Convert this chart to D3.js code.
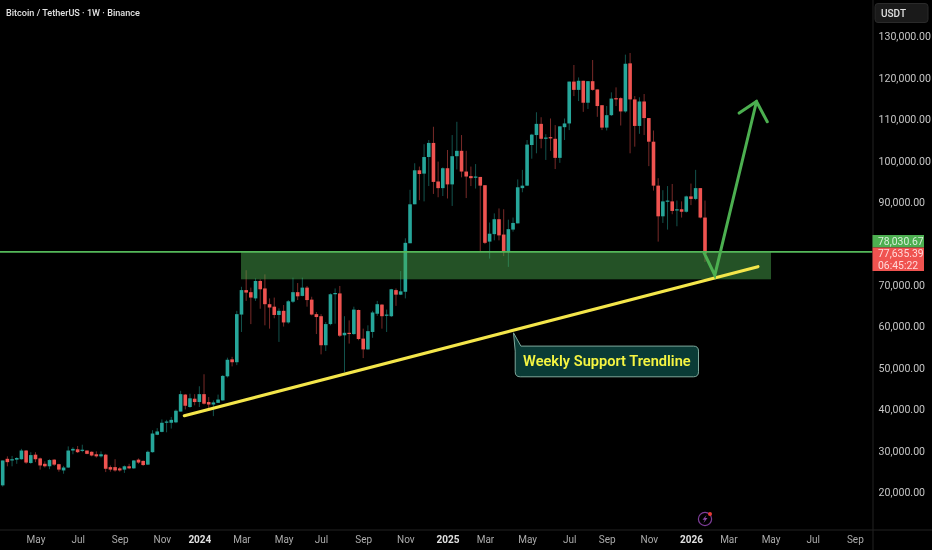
<!DOCTYPE html>
<html>
<head>
<meta charset="utf-8">
<script src="https://cdn.jsdelivr.net/npm/d3@7/dist/d3.min.js"></script>
<style>
html,body{margin:0;padding:0;background:#000;overflow:hidden}
svg{display:block;font-family:Roboto,Inter,sans-serif;filter:blur(0.3px)}
</style>
</head>
<body>
<svg id="chart" width="932" height="550"></svg>
<script>
// Weekly candles, USD thousands
const opens=[21.7,28.1,27.7,27.9,28.0,30.1,27.1,29.1,28.2,26.9,26.3,27.9,26.8,25.3,26.0,30.1,30.4,30.0,30.1,29.8,29.2,28.7,29.1,26.1,26.1,25.8,25.5,26.3,25.8,27.9,27.6,26.7,29.7,33.9,34.6,36.8,36.8,36.9,39.5,43.6,40.6,42.6,41.8,43.7,41.8,41.2,41.6,42.2,48.0,52.1,
51.4,62.9,68.8,68.3,66.8,71.0,69.2,65.4,64.8,62.8,63.8,61.0,66.0,68.3,67.4,69.4,66.5,63.0,62.5,55.5,60.6,67.8,68.0,57.9,58.5,58.2,64.0,57.1,54.5,58.7,63.1,65.3,62.6,62.5,68.8,67.7,68.4,80.1,89.5,97.7,
96.9,100.9,104.3,95.0,93.4,98.2,94.3,101.1,102.4,97.4,96.3,95.9,96.1,94.1,80.5,82.3,85.9,82.2,78.0,83.4,84.9,93.4,94.0,103.8,106.2,108.9,105.4,105.7,105.3,100.7,108.1,109.0,119.1,117.1,119.3,114.0,119.2,117.2,113.4,108.0,
111.0,115.1,115.1,111.9,123.5,114.8,108.4,114.3,110.3,104.6,94.0,86.6,90.2,90.2,88.0,88.3,87.7,91.4,90.8,93.4,86.3];
const highs=[27.7,28.7,28.8,28.5,30.5,30.2,29.7,29.7,28.4,27.5,28.0,28.0,26.9,26.4,31.1,30.9,31.2,31.5,30.1,29.9,29.9,29.9,29.3,26.5,28.0,26.1,26.5,26.9,27.8,28.2,27.7,30.1,35.0,35.5,37.6,37.5,38.2,40.0,44.5,43.7,43.8,43.7,45.6,48.5,43.0,42.2,43.6,48.3,52.5,52.7,
63.8,69.6,73.6,69.4,71.6,71.4,72.6,66.8,67.0,64.4,65.2,66.4,71.8,70.5,71.8,69.8,67.2,63.5,63.0,61.1,68.0,69.2,69.8,62.5,61.5,64.8,64.1,59.5,60.3,63.8,66.2,65.4,64.1,69.1,69.2,73.4,81.3,93.0,99.4,98.6,
104.0,105.0,108.2,99.8,98.4,102.6,106.2,109.4,106.2,102.4,98.6,99.2,96.1,94.1,85.1,87.3,88.5,88.3,85.8,86.3,95.5,97.8,105.0,106.5,111.7,110.5,106.4,110.2,108.6,108.3,110.2,119.1,123.1,120.1,119.3,119.2,124.3,117.2,113.4,113.2,
116.5,117.7,115.3,125.6,126.0,115.6,115.3,116.1,110.3,107.3,95.8,92.9,93.9,94.4,90.4,90.2,91.6,94.5,97.8,93.4,90.4];
const lows=[21.4,26.3,26.3,26.9,27.9,26.9,26.9,27.3,25.5,26.0,25.6,26.4,25.0,24.5,25.9,29.2,29.5,29.7,29.2,28.7,28.4,28.4,24.9,25.0,25.0,25.0,24.7,25.6,25.7,26.9,26.4,26.6,29.6,33.8,34.5,34.5,35.4,36.7,39.5,40.0,40.4,41.0,40.6,41.2,40.3,38.4,41.6,42.1,47.7,50.4,
50.7,58.7,66.2,60.6,66.2,64.3,60.3,59.5,62.0,56.3,60.0,60.7,65.7,66.4,67.3,64.8,62.7,58.2,53.3,54.1,60.3,60.7,57.5,49.0,55.9,58.0,56.7,52.4,54.4,57.3,62.6,59.5,58.7,62.3,65.0,67.6,66.8,80.1,89.5,90.5,
90.2,93.9,92.0,91.2,91.5,90.9,89.1,97.9,96.0,91.0,93.9,93.3,78.0,79.9,76.4,80.8,80.8,77.0,74.4,82.9,84.9,92.4,93.9,100.5,101.8,103.0,100.2,102.4,98.0,99.5,105.0,107.4,115.6,114.4,111.8,112.5,116.9,110.6,107.4,107.3,
110.8,113.2,108.5,111.6,101.8,103.4,106.5,106.2,98.7,92.8,80.5,85.0,83.4,87.1,84.2,86.3,87.5,89.3,90.5,86.1,75.6];
const closes=[27.7,27.3,28.0,28.3,30.1,27.2,29.0,28.0,26.5,26.3,27.8,26.7,25.5,26.0,30.1,30.5,29.7,30.3,29.3,28.9,28.7,29.2,25.7,25.5,25.3,25.3,26.3,25.8,27.7,27.2,26.6,29.8,34.2,34.7,36.8,37.1,37.5,39.7,43.7,40.9,42.7,41.8,43.7,41.4,41.2,41.7,42.4,48.1,52.0,51.4,
63.0,68.8,68.2,67.0,71.0,69.0,65.4,64.6,62.8,63.8,61.0,66.1,68.3,67.3,69.4,66.4,62.9,62.3,55.5,60.6,67.8,68.1,57.8,58.5,58.2,64.1,57.0,54.5,58.9,63.4,65.4,62.5,62.9,69.0,67.7,68.5,80.2,89.5,97.7,96.8,
100.9,104.3,94.9,93.4,98.2,94.3,101.1,102.4,97.4,96.2,95.8,96.2,94.0,80.2,82.4,85.9,82.0,78.0,83.5,85.0,93.6,94.0,103.9,106.3,108.9,105.3,105.6,105.4,100.7,108.3,109.0,119.1,117.1,119.3,114.0,119.2,117.1,113.2,108.0,111.0,
115.0,114.8,111.9,123.4,114.8,108.4,114.3,110.3,104.6,94.0,86.6,90.2,90.4,87.9,88.3,87.7,91.4,90.8,93.4,86.3,77.6];

// Axes
const xTickBars=[7,16,25,34,42,51,60,68,77,86,95,103,112,121,129,138,147,155,164,173,182];
const xTickLabels=["May","Jul","Sep","Nov","2024","Mar","May","Jul","Sep","Nov","2025","Mar","May","Jul","Sep","Nov","2026","Mar","May","Jul","Sep"];
const yearLabels=["2024","2025","2026"];
const yTicks=[20,30,40,50,60,70,90,100,110,120,130];

// Drawings: [bar index, price in USD thousands]
const supportLevel=78.03;
const zoneBars=[50.9,164.1];
const zonePrices=[78.03,71.4];
const trendline=[[38.8,38.5],[161.3,74.45]];
const arrowPath=[[149.8,77.8],[152.1,72.4],[161,114.3]];
const arrowHead=[[157.3,111.5],[161,114.3],[163.3,109.4]];
const calloutAnchor=[109.1,58.5];
const calloutText="Weekly Support Trendline";
const chartTitle="Bitcoin / TetherUS · 1W · Binance";
const currencyLabel="USDT";
const lastPrices=["78,030.67","77,635.39","06:45:22"];

const paneW=872.5, paneH=529.5;
const x=d3.scaleLinear().domain([0,150]).range([2.7,705]);
const y=d3.scaleLinear().domain([20,130]).range([492.4,36.4]);
const UP="#26a69a", DOWN="#ef5350", GREEN="#4caf50";
const svg=d3.select("#chart");
svg.append("rect").attr("width",932).attr("height",550).attr("fill","#000");

const bars=d3.range(opens.length).map(i=>({i,o:opens[i],h:highs[i],l:lows[i],c:closes[i]}));
const col=d=>d.c>=d.o?UP:DOWN;
const gC=svg.append("g");
gC.selectAll("line").data(bars).join("line")
  .attr("x1",d=>x(d.i)).attr("x2",d=>x(d.i)).attr("y1",d=>y(d.h)).attr("y2",d=>y(d.l))
  .attr("stroke",col).attr("stroke-width",1).attr("stroke-opacity",.5);
gC.selectAll("rect").data(bars).join("rect")
  .attr("x",d=>x(d.i)-1.8).attr("width",3.6)
  .attr("y",d=>Math.min(y(d.o),y(d.c)))
  .attr("height",d=>Math.max(1.2,Math.abs(y(d.o)-y(d.c))))
  .attr("fill",col);

// Zone and level
svg.append("rect").attr("x",x(zoneBars[0])).attr("width",x(zoneBars[1])-x(zoneBars[0]))
  .attr("y",y(zonePrices[0])).attr("height",y(zonePrices[1])-y(zonePrices[0]))
  .attr("fill",GREEN).attr("fill-opacity",.47);
svg.append("line").attr("x1",0).attr("x2",paneW).attr("y1",y(supportLevel)).attr("y2",y(supportLevel))
  .attr("stroke","#55b85a").attr("stroke-width",1.7);

const line=d3.line().x(d=>x(d[0])).y(d=>y(d[1]));
svg.append("path").attr("d",line(trendline)).attr("fill","none").attr("stroke","#f4e64a").attr("stroke-width",3.2).attr("stroke-linecap","round");
[arrowPath,arrowHead].forEach(p=>svg.append("path").attr("d",line(p)).attr("fill","none")
  .attr("stroke",GREEN).attr("stroke-width",3).attr("stroke-linejoin","miter").attr("stroke-linecap","round"));

// Callout
const ax=x(calloutAnchor[0]), ay=y(calloutAnchor[1]);
const cL=ax+1.7, cT=ay+13.3, cW=183.3, cH=30.7, r=5;
svg.append("path").attr("d",`M${ax},${ay} L${ax+7.4},${cT} H${cL+cW-r} Q${cL+cW},${cT} ${cL+cW},${cT+r} V${cT+cH-r} Q${cL+cW},${cT+cH} ${cL+cW-r},${cT+cH} H${cL+r} Q${cL},${cT+cH} ${cL},${cT+cH-r} V${cT+r} Z`)
  .attr("fill","#0a3b36").attr("stroke","#7fa89c").attr("stroke-width",1);
svg.append("text").attr("x",cL+cW/2).attr("y",cT+cH/2+5).attr("text-anchor","middle")
  .attr("font-size",14.6).attr("font-weight",600).attr("fill","#f5f542").text(calloutText);

// Price axis
svg.append("g").attr("transform",`translate(${paneW},0)`)
  .call(d3.axisRight(y).tickValues(yTicks).tickSize(0).tickPadding(6).tickFormat(v=>d3.format(",.2f")(v*1000)))
  .call(g=>g.select(".domain").attr("d","M0.5,0V550").attr("stroke","#232323"))
  .call(g=>g.selectAll("text").attr("fill","#c4c4c4").attr("font-size",10.6).attr("font-family","Roboto,sans-serif"));

// Time axis
const xTickScale=d3.scaleOrdinal().domain(xTickBars).range(xTickLabels);
svg.append("g").attr("transform",`translate(0,${paneH})`)
  .call(d3.axisBottom(x).tickValues(xTickBars).tickSize(0).tickPadding(6).tickFormat(b=>xTickScale(b)))
  .call(g=>g.select(".domain").attr("d",`M0,0.5H932`).attr("stroke","#232323"))
  .call(g=>g.selectAll("text").attr("fill",d=>yearLabels.includes(xTickScale(d))?"#e0e0e0":"#ababab")
     .attr("font-weight",d=>yearLabels.includes(xTickScale(d))?700:400)
     .attr("font-size",10).attr("font-family","Roboto,sans-serif"));

// Title
svg.append("text").attr("x",6).attr("y",15.5).attr("font-size",9.1).attr("font-weight",500).attr("fill","#e2e2e2").text(chartTitle);

// Currency button
svg.append("rect").attr("x",875).attr("y",3.5).attr("width",53).attr("height",19).attr("rx",3)
  .attr("fill","#1a1a1a").attr("stroke","#2a2a2a");
svg.append("text").attr("x",881).attr("y",16.5).attr("font-size",10).attr("font-weight",500).attr("fill","#e0e0e0").text(currencyLabel);

// Last price labels
svg.append("rect").attr("x",paneW).attr("y",235).attr("width",51.5).attr("height",12.5).attr("fill",GREEN);
svg.append("rect").attr("x",paneW).attr("y",247.5).attr("width",51.5).attr("height",23.5).attr("fill","#f05350");
svg.selectAll(".lp").data(lastPrices).join("text").attr("class","lp")
  .attr("x",878).attr("y",(d,i)=>[245,257,268.5][i]).attr("font-size",10.4)
  .attr("fill",(d,i)=>i===0?"#d9efd9":"#ffd9d9").text(d=>d);

// Bolt badge
const badge=svg.append("g").attr("transform","translate(705,519)");
badge.append("circle").attr("r",6.6).attr("fill","none").attr("stroke","#7d3c98").attr("stroke-width",1.2);
badge.append("path").attr("d","M1.5,-4 L-2.5,0.8 H-0.2 L-1.5,4 L2.5,-1 H0.2 Z").attr("fill","#8a4aa8");
badge.append("circle").attr("cx",5).attr("cy",-5).attr("r",2).attr("fill","#e53935");
</script>
</body>
</html>
